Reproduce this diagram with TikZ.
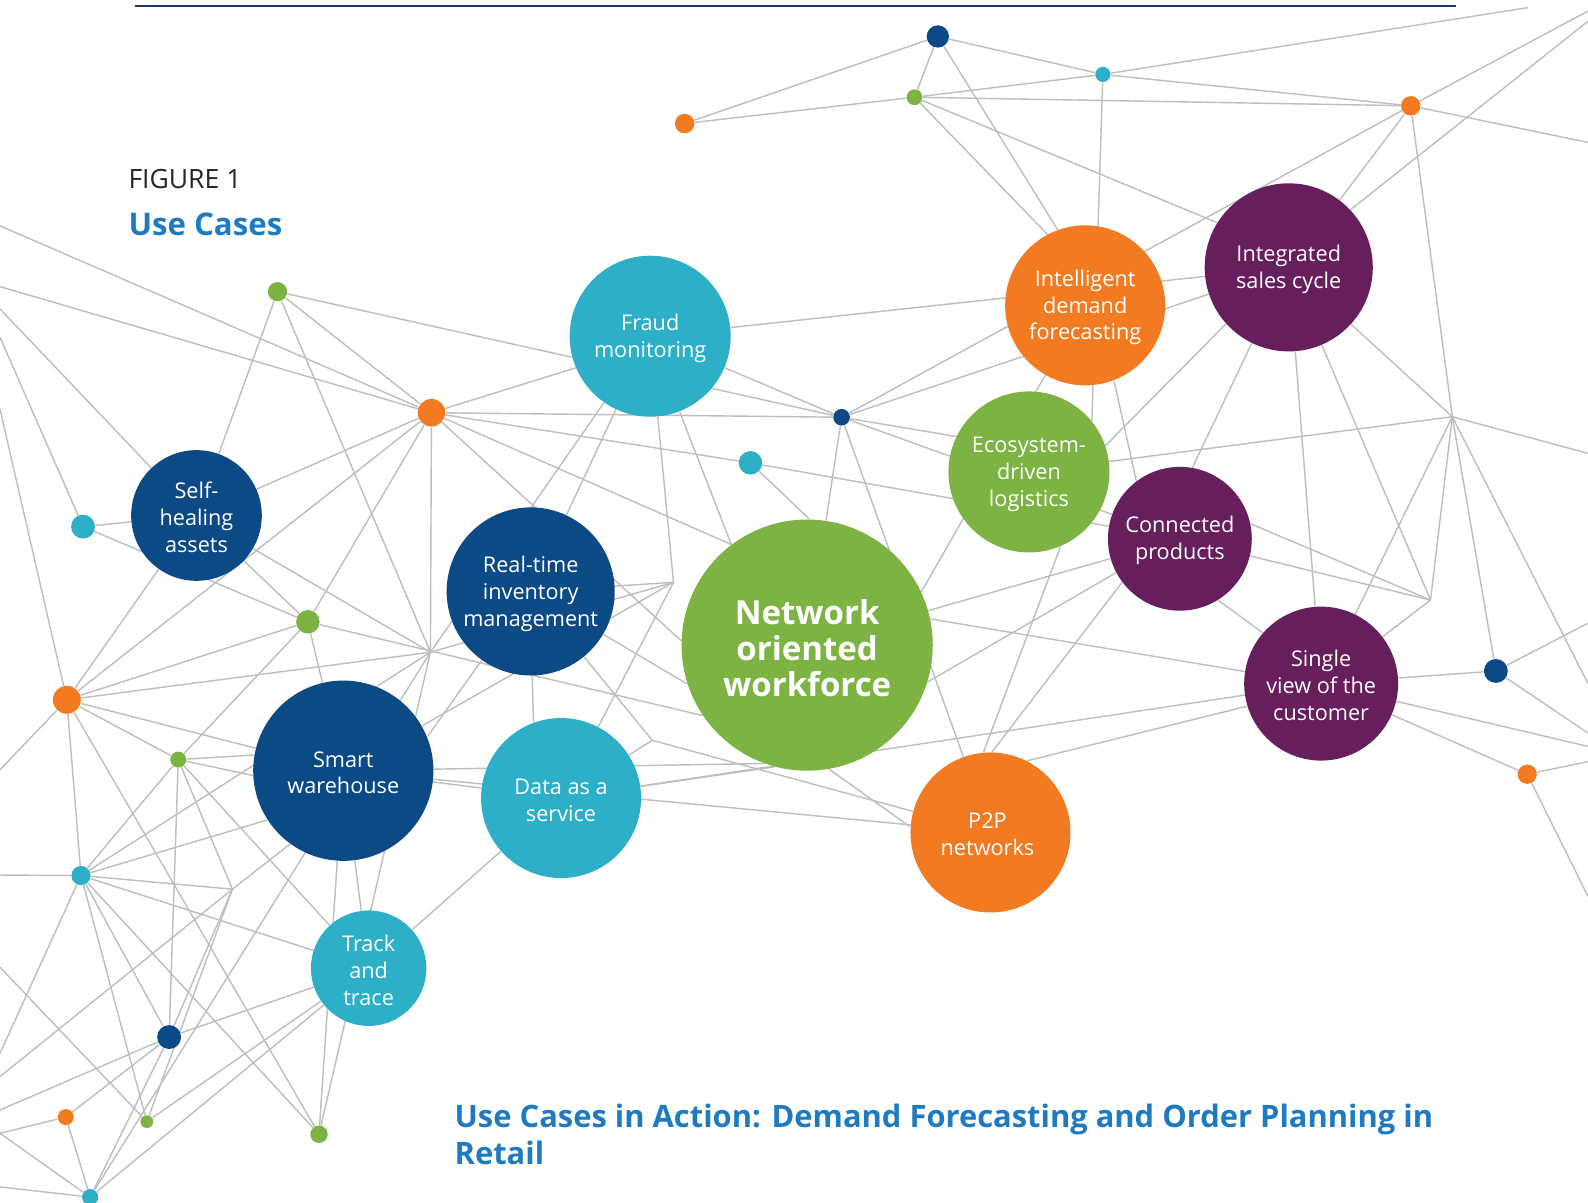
\documentclass[tikz,border=0pt]{standalone}
\usepackage{fontspec}
\setmainfont{Open Sans}
\usetikzlibrary{backgrounds}
\definecolor{dblue}{RGB}{11,74,133}
\definecolor{cyanc}{RGB}{46,175,200}
\definecolor{orangec}{RGB}{242,122,33}
\definecolor{greenc}{RGB}{124,179,66}
\definecolor{purplec}{RGB}{103,30,92}
\definecolor{linkgray}{RGB}{190,190,190}
\definecolor{titleblue}{RGB}{30,123,194}
\definecolor{rulenavy}{RGB}{31,56,100}
\begin{document}
\begin{tikzpicture}[x=0.5pt,y=-0.5pt,
  hub/.style={circle, inner sep=0pt, minimum size=#1pt},
  caption/.style={text=white, align=center, inner sep=0pt, yshift=-1pt,
                  font=\fontsize{10.7}{13.3}\selectfont},
  bigcaption/.style={caption, yshift=-0.5pt, font=\bfseries\fontsize{16.3}{17.8}\selectfont},
  spot/.style={circle, inner sep=0pt, minimum size=#1pt},
  link/.style={draw=linkgray, line width=0.7pt}]
\useasboundingbox (0,0) rectangle (1568,1187);

% ---------- use-case circles ----------
\node[hub=79.5, fill=cyanc,   label={[caption]center:{Fraud\\monitoring}}] (FM) at (642,332) {};
\node[hub=79,   fill=orangec, label={[caption]center:{Intelligent\\demand\\forecasting}}] (IDF) at (1071.5,301.5) {};
\node[hub=83,   fill=purplec, label={[caption]center:{Integrated\\sales cycle}}] (ISC) at (1272.5,264) {};
\node[hub=79.5, fill=greenc,  label={[caption]center:{Ecosystem-\\driven\\logistics}}] (EDL) at (1016,466) {};
\node[hub=71,   fill=purplec, label={[caption]center:{Connected\\products}}] (CP) at (1165,532) {};
\node[hub=64.5, fill=dblue,   label={[caption]center:{Self-\\healing\\assets}}] (SHA) at (194,509) {};
\node[hub=83,   fill=dblue,   label={[caption]center:{Real-time\\inventory\\management}}] (RTI) at (524,584) {};
\node[hub=124,  fill=greenc,  label={[bigcaption]center:{Network\\oriented\\workforce}}] (NOW) at (797,637) {};
\node[hub=89,   fill=dblue,   label={[caption]center:{Smart\\warehouse}}] (SW) at (339,761) {};
\node[hub=79,   fill=cyanc,   label={[caption]center:{Data as a\\service}}] (DaaS) at (554,788) {};
\node[hub=79,   fill=orangec, label={[caption, xshift=-1.5pt]center:{P2P\\networks}}] (P2P) at (978,822) {};
\node[hub=76,   fill=purplec, label={[caption]center:{Single\\view of the\\customer}}] (SVC) at (1304.5,675) {};
\node[hub=57,   fill=cyanc,   label={[caption]center:{Track\\and\\trace}}] (TT) at (364,956) {};

% ---------- small network points ----------
\node[spot=11,  fill=dblue]   (a1)  at (926,36) {};
\node[spot=7.5, fill=cyanc]   (a2)  at (1089,73.5) {};
\node[spot=7.8, fill=greenc]  (a3)  at (903,96) {};
\node[spot=9.6, fill=orangec] (a4)  at (676,122) {};
\node[spot=9.6, fill=orangec] (a5)  at (1393,104.5) {};
\node[spot=9.5, fill=greenc]  (b1)  at (274,288) {};
\node[spot=13.6,fill=orangec] (b2)  at (426,407.5) {};
\node[spot=11.8,fill=cyanc]   (b3)  at (82,520) {};
\node[spot=8.2, fill=dblue]   (b4)  at (831,412) {};
\node[spot=11.6,fill=cyanc]   (b5)  at (741,457) {};
\node[spot=11.6,fill=greenc]  (b6)  at (304,614) {};
\node[spot=13.8,fill=orangec] (b7)  at (66,691) {};
\node[spot=7.9, fill=greenc]  (b8)  at (176,750) {};
\node[spot=9.5, fill=cyanc]   (b9)  at (80,864.5) {};
\node[spot=11.8,fill=dblue]   (b10) at (167,1024) {};
\node[spot=7.9, fill=orangec] (b11) at (65,1103) {};
\node[spot=6.3, fill=greenc]  (b12) at (145,1107.5) {};
\node[spot=8.6, fill=greenc]  (b13) at (315,1120) {};
\node[spot=8,   fill=cyanc]   (b14) at (89,1182) {};
\node[spot=11.8,fill=dblue]   (c1)  at (1477,662.5) {};
\node[spot=9.5, fill=orangec] (c2)  at (1508,764.5) {};

% ---------- bare junctions and edge exits ----------
\coordinate (j1) at (425,644);
\coordinate (j2) at (665,575);
\coordinate (j3) at (644,731);
\coordinate (j4) at (229.5,878);
\coordinate (j5) at (1434,411.5);
\coordinate (j6) at (1412.5,592.5);
\coordinate (L1) at (0,223);   \coordinate (L2) at (0,283);
\coordinate (L3) at (0,305);   \coordinate (L4) at (0,333);
\coordinate (L5) at (0,404);   \coordinate (L6) at (0,760);
\coordinate (L7) at (0,864);   \coordinate (L8) at (0,1040);
\coordinate (L10) at (0,1063); \coordinate (L11) at (0,1096);
\coordinate (L12) at (0,1119); \coordinate (L13) at (0,1172);
\coordinate (L14) at (0,955);
\coordinate (R1) at (1568,11);    \coordinate (R2) at (1568,21);
\coordinate (R3) at (1509,7.5);   \coordinate (R4) at (1568,140.6);
\coordinate (R5) at (1568,447.6); \coordinate (R6) at (1568,675);
\coordinate (R7) at (1568,615.4); \coordinate (R8) at (1568,723.8);
\coordinate (R9) at (1568,737);   \coordinate (R10) at (1568,752);
\coordinate (R11) at (1568,885);

% ---------- connectors, kept behind the circles ----------
\begin{pgfonlayer}{background}
\fill[white] (0,0) rectangle (1568,1187);
% upper cluster
\draw[link] (a4)--(a1); \draw[link] (a4)--(a3); \draw[link] (a1)--(a3);
\draw[link] (a1)--(a2); \draw[link] (a3)--(a2); \draw[link] (a2)--(a5);
\draw[link] (a3)--(a5); \draw[link] (a2)--(R3); \draw[link] (a5)--(R1);
\draw[link] (a5)--(R4); \draw[link] (ISC.43)--(R2); \draw[link] (a5)--(ISC);
\draw[link] (a5)--(j5); \draw[link] (b4)--(a5); \draw[link] (b4)--(ISC);
\draw[link] (a1)--(IDF.110); \draw[link] (a3)--(IDF.118);
\draw[link] (a3)--(ISC.148); \draw[link] (a2)--(EDL.39);
% around fraud monitoring
\draw[link] (FM)--(ISC); \draw[link] (b1)--(b4); \draw[link] (FM)--(b4);
\draw[link] (b2)--(FM.203); \draw[link] (FM)--(j1); \draw[link] (FM)--(RTI);
\draw[link] (FM)--(j2); \draw[link] (FM)--(NOW.127);
% demand forecasting, sales cycle, logistics, products
\draw[link] (IDF)--(NOW.25); \draw[link] (IDF.291)--(CP.127);
\draw[link] (ISC.222)--(EDL.19); \draw[link] (ISC.244)--(CP.80);
\draw[link] (ISC)--(SVC); \draw[link] (ISC)--(j6); \draw[link] (ISC)--(j5);
\draw[link] (b4)--(EDL.154); \draw[link] (b4)--(CP); \draw[link] (b5)--(CP);
\draw[link] (EDL)--(j5); \draw[link] (EDL.293)--(P2P.95);
% network oriented workforce
\draw[link] (b4)--(NOW); \draw[link] (b5)--(NOW.89); \draw[link] (b4)--(P2P);
\draw[link] (NOW)--(CP); \draw[link] (NOW.12)--(SVC.171);
\draw[link] (NOW.343)--(CP.208); \draw[link] (NOW.280)--(P2P.176);
\draw[link] (j3)--(P2P); \draw[link] (DaaS)--(SVC);
\draw[link] (b2)--(NOW.178); \draw[link] (b2)--(NOW.127);
\draw[link] (RTI)--(NOW.198); \draw[link] (SW)--(NOW.250);
\draw[link] (DaaS)--(NOW.255); \draw[link] (b6)--(NOW.214);
% right side
\draw[link] (P2P.63)--(SVC.197); \draw[link] (P2P.89)--(CP.217);
\draw[link] (SW)--(P2P); \draw[link] (CP.302)--(SVC.139);
\draw[link] (SVC)--(j5); \draw[link] (SVC)--(j6); \draw[link] (SVC)--(c1);
\draw[link] (SVC)--(c2); \draw[link] (SVC)--(R9); \draw[link] (j5)--(c1);
\draw[link] (j5)--(R5); \draw[link] (j5)--(R6); \draw[link] (j5)--(j6);
\draw[link] (CP.12)--(j6); \draw[link] (CP)--(j6);
\draw[link] (c1)--(R7); \draw[link] (c1)--(R8);
\draw[link] (c2)--(R10); \draw[link] (c2)--(R11);
% left side
\draw[link] (L1)--(b2); \draw[link] (L2)--(b2); \draw[link] (b1)--(b2);
\draw[link] (b1)--(SHA); \draw[link] (b1)--(j1); \draw[link] (b2)--(SHA);
\draw[link] (b2)--(b7); \draw[link] (b2)--(b6); \draw[link] (b2)--(j1);
\draw[link] (b2)--(b5); \draw[link] (b2)--(b4);
\draw[link] (L3)--(SHA); \draw[link] (L4)--(b3); \draw[link] (b3)--(SHA);
\draw[link] (b3)--(b6); \draw[link] (L5)--(b7);
\draw[link] (SHA)--(b6); \draw[link] (SHA)--(b7); \draw[link] (SHA)--(j1);
\draw[link] (b6)--(b7); \draw[link] (b6)--(b8); \draw[link] (b6)--(SW);
\draw[link] (b7)--(j1); \draw[link] (b7)--(b9); \draw[link] (b7)--(b8);
\draw[link] (b7)--(SW); \draw[link] (b7)--(b13); \draw[link] (L6)--(b7);
\draw[link] (b8)--(SW.170); \draw[link] (b8)--(SW.183); \draw[link] (b8)--(b10);
\draw[link] (b8)--(j4); \draw[link] (b8)--(TT); \draw[link] (b8)--(b9);
\draw[link] (b9)--(L7); \draw[link] (b9)--(j1); \draw[link] (b9)--(SW.213);
\draw[link] (b9)--(j4); \draw[link] (b9)--(TT); \draw[link] (b9)--(b10);
\draw[link] (b9)--(b12); \draw[link] (b9)--(b13); \draw[link] (b9)--(L8);
\draw[link] (b10)--(TT); \draw[link] (b10)--(j4); \draw[link] (b10)--(L11);
\draw[link] (b10)--(b11); \draw[link] (b10)--(b14);
\draw[link] (b11)--(L12); \draw[link] (b11)--(b14); \draw[link] (b14)--(L12);
\draw[link] (b14)--(L13); \draw[link] (b12)--(j4); \draw[link] (b12)--(TT);
\draw[link] (b12)--(L14);
\draw[link] (L10)--(j4)--(SW.234);
\draw[link] (SW)--(j2); \draw[link] (SW)--(DaaS); \draw[link] (SW)--(TT);
\draw[link] (SW)--(b13); \draw[link] (j1)--(b13); \draw[link] (j1)--(b14);
% around real-time inventory and data as a service
\draw[link] (RTI)--(j2); \draw[link] (j1)--(j2); \draw[link] (RTI.271)--(DaaS.110);
\draw[link] (RTI)--(SW.22); \draw[link] (RTI)--(j3); \draw[link] (j2)--(DaaS);
\draw[link] (DaaS)--(j3); \draw[link] (TT)--(DaaS); \draw[link] (b14)--(TT);
\end{pgfonlayer}

% ---------- rule and headings ----------
\draw[rulenavy, line width=1.2pt] (133,6) -- (1438,6);
\node[anchor=base west, inner sep=0pt, text=black!85, font=\fontsize{13.1}{15}\selectfont]
  (figlabel) at (126.5,186) {FIGURE 1};
\node[anchor=base west, inner sep=0pt, text=titleblue, font=\bfseries\fontsize{15.4}{18}\selectfont]
  (figtitle) at (126.5,233) {Use Cases};
\node[anchor=base west, inner sep=0pt, text=titleblue, font=\bfseries\fontsize{15.25}{18}\selectfont]
  (acta) at (448.5,1113) {Use Cases in Action: Demand Forecasting and Order Planning in};
\node[anchor=base west, inner sep=0pt, text=titleblue, font=\bfseries\fontsize{15.25}{18}\selectfont]
  (actb) at (448.5,1150) {Retail};
\end{tikzpicture}
\end{document}
